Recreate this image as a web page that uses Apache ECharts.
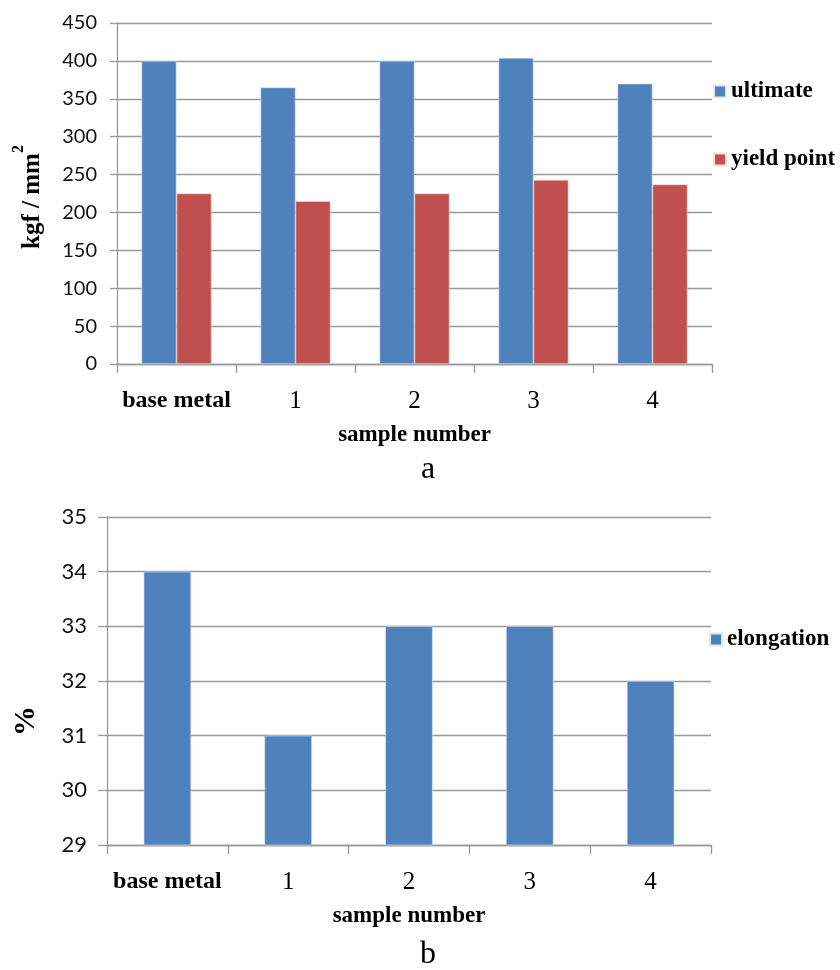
<!DOCTYPE html>
<html><head><meta charset="utf-8">
<script src="https://cdn.jsdelivr.net/npm/echarts@6/dist/echarts.min.js"></script>
<style>html,body{margin:0;padding:0;background:#fff}#c{width:840px;height:970px}</style>
</head><body><div id="c"></div>
<script>
// ---- data ----
const categories = ['base metal', '1', '2', '3', '4'];
const ultimate = [400, 365, 400, 404, 370];
const yieldPoint = [225, 215, 225, 243, 237];
const elongation = [34, 31, 33, 33, 32];
const strengthAxis = { min: 0, max: 450, interval: 50 };
const elongAxis = { min: 29, max: 35, interval: 1 };
const seriesNames = ['ultimate', 'yield point', 'elongation'];
const xAxisTitle = 'sample number';

// ---- styles ----
const SERIF = '"Liberation Serif", "Times New Roman", serif';
const SANS = 'Lato, "Open Sans", sans-serif';
const BLUE = '#4F81BD', RED = '#C0504D', GRID = '#999999';

const chart = echarts.init(document.getElementById('c'), null, { renderer: 'canvas' });

function xAxisCfg(gridIndex) {
  return {
    type: 'category', gridIndex, data: categories,
    axisLine: { lineStyle: { color: GRID, width: 1.3 } },
    axisTick: { show: true, length: 9, alignWithLabel: false, lineStyle: { color: GRID, width: 1.3 } },
    axisLabel: {
      interval: 0, margin: 25,
      formatter: v => v === 'base metal' ? '{b|' + v + '}' : '{n|' + v + '}',
      rich: {
        b: { fontFamily: SERIF, fontWeight: 'bold', fontSize: 24, color: '#000' },
        n: { fontFamily: SERIF, fontSize: 25, color: '#000' }
      }
    },
    name: xAxisTitle, nameLocation: 'middle', nameGap: 60,
    nameTextStyle: { fontFamily: SERIF, fontWeight: 'bold', fontSize: 23, color: '#000' }
  };
}
function yAxisCfg(gridIndex, ax, fs, tick) {
  return {
    type: 'value', gridIndex, min: ax.min, max: ax.max, interval: ax.interval,
    axisLine: { show: true, lineStyle: { color: GRID, width: 1.3 } },
    axisTick: { show: true, length: tick, lineStyle: { color: GRID, width: 1.3 } },
    splitLine: { lineStyle: { color: GRID, width: 1.3 } },
    axisLabel: { margin: 20, fontFamily: SANS, fontSize: fs, color: '#111' }
  };
}

const option = {
  animation: false,
  backgroundColor: '#fff',
  grid: [
    { left: 117, top: 23, width: 595, height: 341 },
    { left: 107, top: 517, width: 604, height: 328 }
  ],
  xAxis: [xAxisCfg(0), xAxisCfg(1)],
  yAxis: [yAxisCfg(0, strengthAxis, 20, 7), yAxisCfg(1, elongAxis, 22, 9)],
  legend: [
    {
      data: [seriesNames[0], seriesNames[1]], orient: 'vertical', left: 713, top: 80, padding: 0,
      itemWidth: 12, itemHeight: 12, itemGap: 45, icon: 'rect',
      textStyle: { fontFamily: SERIF, fontWeight: 'bold', fontSize: 23, color: '#000' }
    },
    {
      data: [seriesNames[2]], orient: 'vertical', left: 709, top: 628, padding: 0,
      itemWidth: 12, itemHeight: 12, icon: 'rect',
      textStyle: { fontFamily: SERIF, fontWeight: 'bold', fontSize: 23, color: '#000' }
    }
  ],
  series: [
    { name: seriesNames[0], type: 'bar', xAxisIndex: 0, yAxisIndex: 0, data: ultimate,
      barWidth: 35, barGap: '0%', itemStyle: { color: BLUE, borderColor: '#dfe8f3', borderWidth: 0.6 } },
    { name: seriesNames[1], type: 'bar', xAxisIndex: 0, yAxisIndex: 0, data: yieldPoint,
      barWidth: 35, barGap: '0%', itemStyle: { color: RED, borderColor: '#f3dede', borderWidth: 0.6 } },
    { name: seriesNames[2], type: 'bar', xAxisIndex: 1, yAxisIndex: 1, data: elongation,
      barWidth: 47.5, itemStyle: { color: BLUE, borderColor: '#dfe8f3', borderWidth: 0.6 } }
  ],
  graphic: [
    { type: 'text', x: 33, y: 197, rotation: Math.PI / 2,
      style: { text: '{m|kgf / mm}{s|2}', textAlign: 'center', textVerticalAlign: 'middle',
        rich: {
          m: { fontFamily: SERIF, fontWeight: 'bold', fontSize: 25, fill: '#000' },
          s: { fontFamily: SERIF, fontWeight: 'bold', fontSize: 16, fill: '#000', padding: [0, 0, 28, 0] }
        } } },
    { type: 'text', x: 26, y: 721, rotation: Math.PI / 2,
      style: { text: '%', textAlign: 'center', textVerticalAlign: 'middle',
        font: 'bold 30px ' + SERIF, fill: '#000' } },
    { type: 'text', x: 428, y: 470,
      style: { text: 'a', textAlign: 'center', textVerticalAlign: 'middle',
        font: '32px ' + SERIF, fill: '#000' } },
    { type: 'text', x: 428, y: 955,
      style: { text: 'b', textAlign: 'center', textVerticalAlign: 'middle',
        font: '32px ' + SERIF, fill: '#000' } }
  ]
};
chart.setOption(option);
</script>
</body></html>
